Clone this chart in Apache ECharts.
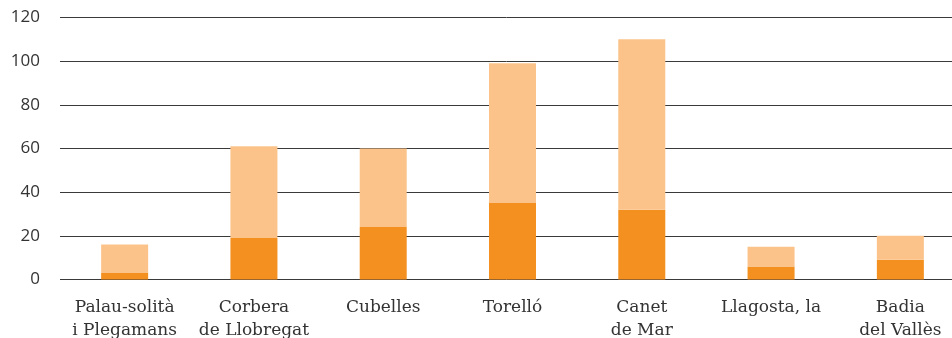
<!DOCTYPE html>
<html>
<head>
<meta charset="utf-8">
<script src="https://cdn.jsdelivr.net/npm/echarts@6/dist/echarts.min.js"></script>
<style>
  html, body { margin: 0; padding: 0; background: #fff; }
  #chart { width: 952px; height: 338px; }
</style>
</head>
<body>
<div id="chart"></div>
<script>
// Municipalities shown along the x axis
const categories = [
  'Palau-solità\ni Plegamans',
  'Corbera\nde Llobregat',
  'Cubelles',
  'Torelló',
  'Canet\nde Mar',
  'Llagosta, la',
  'Badia\ndel Vallès'
];
// Lower (dark) segment of each stacked bar
const lowerValues = [3, 19, 24, 35, 32, 6, 9];
// Upper (light) segment of each stacked bar
const upperValues = [13, 42, 36, 64, 78, 9, 11];
// Y axis ticks
const yTicks = [0, 20, 40, 60, 80, 100, 120];

const chart = echarts.init(document.getElementById('chart'), null, { renderer: 'canvas' });
chart.setOption({
  animation: false,
  grid: {
    left: 60, width: 905, top: 17.5, height: 262,
    containLabel: false,
    outerBoundsMode: 'none'
  },
  xAxis: {
    type: 'category',
    data: categories,
    axisLine: { show: false },
    axisTick: { show: false },
    axisLabel: {
      interval: 0,
      margin: 17,
      fontFamily: 'DejaVu Serif',
      fontSize: 17,
      lineHeight: 23,
      color: '#333'
    }
  },
  yAxis: {
    type: 'value',
    min: yTicks[0],
    max: yTicks[yTicks.length - 1],
    interval: 20,
    axisLine: { show: false },
    axisTick: { show: false },
    splitLine: { lineStyle: { color: '#3a3a3a', width: 1 } },
    axisLabel: {
      margin: 20,
      fontFamily: 'Open Sans',
      fontSize: 17,
      color: '#333'
    }
  },
  series: [
    {
      type: 'bar',
      stack: 'total',
      data: lowerValues,
      barWidth: 47,
      itemStyle: { color: '#F39020' }
    },
    {
      type: 'bar',
      stack: 'total',
      data: upperValues,
      barWidth: 47,
      itemStyle: { color: '#FBC38A' }
    }
  ]
});
</script>
</body>
</html>
